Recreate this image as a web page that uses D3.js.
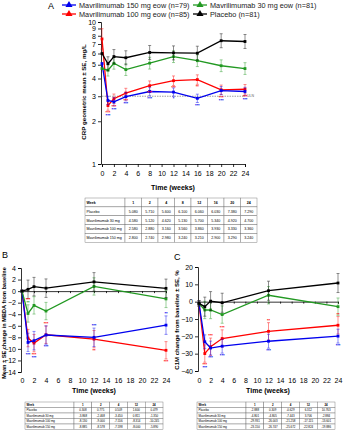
<!DOCTYPE html>
<html>
<head>
<script src="https://d3js.org/d3.v7.min.js"></script>
<style>
  body { margin: 0; background: #fff; }
  svg { font-family: "Liberation Sans", Arial, sans-serif; }
  .axis path, .axis line { stroke: #000; stroke-width: 0.8; }
  .axis text { font-size: 7px; fill: #000; }
</style>
</head>
<body>
<svg id="chart" width="344" height="440"></svg>
<script>
// ---- data ----
const seriesNames = ["Placebo", "Mavrilimumab 30 mg", "Mavrilimumab 100 mg", "Mavrilimumab 150 mg"];
const seriesColors = ["#000000", "#229922", "#ff0000", "#0000ee"];

// panel A: CRP geometric mean (week 0, rest from table)
const weeksA = [0, 1, 2, 4, 8, 12, 16, 20, 24];
const crpPlacebo = [6.0, 5.08, 5.71, 5.60, 6.10, 6.06, 6.03, 7.38, 7.29];
const crp30 = [4.7, 4.58, 5.12, 4.62, 5.13, 5.70, 5.34, 4.92, 4.70];
const crp100 = [7.6, 2.58, 2.88, 3.16, 3.56, 3.86, 3.93, 3.33, 3.36];
const crp150 = [5.1, 2.80, 2.74, 2.98, 3.24, 3.21, 2.90, 3.29, 3.24];
// SE as multiplicative factor on log scale
const crpSE = [1.12, 1.10, 1.08, 1.07];
const crpSE0 = [1.0, 1.0, 1.18, 1.0];
const uln = 3;

// panel B: MBDA change
const weeksB = [0, 1, 2, 4, 12, 24];
const mbdaPlacebo = [0, 0.308, 0.775, 0.509, 1.600, 0.479];
const mbda30 = [0, -3.868, -2.468, -3.450, 0.811, -1.350];
const mbda100 = [0, -8.130, -9.000, -7.556, -8.314, -10.245];
const mbda150 = [0, -8.885, -8.578, -7.598, -8.000, -5.890];
const mbdaSE = [1.6, 1.5, 1.5, 1.6];

// panel C: C1M change
const weeksC = [0, 1, 2, 4, 12, 24];
const c1mPlacebo = [-1, -2.888, 0.309, -0.629, 6.312, 10.763];
const c1m30 = [-1, -4.801, -4.805, -7.443, 3.706, -2.884];
const c1m100 = [-1, -29.931, -26.003, -21.258, -17.115, -13.601];
const c1m150 = [-1, -23.150, -26.747, -25.672, -22.824, -19.886];
const c1mSE = [5.5, 5.0, 5.0, 4.0];

// significance marks: [series index, week, label, side]
const starsA = [[2,1,"***",1],[3,1,"***",1],[2,2,"***",1],[3,2,"***",1],[2,4,"***",1],[3,4,"***",1],
  [2,8,"***",1],[3,8,"***",1],[2,12,"***",1],[3,12,"*",1],[2,16,"**",1],[3,16,"***",1],
  [2,20,"***",1],[3,20,"***",1],[2,24,"***",1],[3,24,"***",1]];
const starsB = [[1,1,"**",-1],[2,1,"***",-1],[3,1,"***",1],[2,2,"***",1],[3,2,"***",1],
  [2,4,"***",-1],[3,4,"***",1],[2,12,"**",1],[3,12,"***",-1],[2,24,"***",1],[3,24,"**",-1]];
const starsC = [[2,1,"***",1],[3,1,"***",1],[2,2,"***",-1],[3,2,"***",1],[2,4,"***",-1],[3,4,"***",1],
  [2,12,"**",-1],[3,12,"***",1],[2,24,"**",-1],[3,24,"***",1]];

const legendLabels = ["Mavrilimumab 150 mg eow (n=79)", "Mavrilimumab 30 mg eow (n=81)",
  "Mavrilimumab 100 mg eow (n=85)", "Placebo (n=81)"];
const legendColors = ["#0000ee", "#229922", "#ff0000", "#000000"];

// table texts
const tableA = [["Week","1","2","4","8","12","16","20","24"],
  ["Placebo","5.080","5.710","5.600","6.100","6.060","6.030","7.380","7.290"],
  ["Mavrilimumab 30 mg","4.580","5.120","4.620","5.130","5.700","5.340","4.920","4.700"],
  ["Mavrilimumab 100 mg","2.580","2.880","3.160","3.560","3.860","3.930","3.330","3.360"],
  ["Mavrilimumab 150 mg","2.800","2.740","2.980","3.240","3.210","2.900","3.290","3.240"]];
const tableB = [["Week","1","2","4","12","24"],
  ["Placebo","0.308","0.775","0.509","1.600","0.479"],
  ["Mavrilimumab 30 mg","-3.868","-2.468","-3.450","0.811","-1.350"],
  ["Mavrilimumab 100 mg","-8.130","-9.000","-7.556","-8.314","-10.245"],
  ["Mavrilimumab 150 mg","-8.885","-8.578","-7.598","-8.000","-5.890"]];
const tableC = [["Week","1","2","4","12","24"],
  ["Placebo","-2.888","0.309","-0.629","6.312","10.763"],
  ["Mavrilimumab 30 mg","-4.801","-4.805","-7.443","3.706","-2.884"],
  ["Mavrilimumab 100 mg","-29.931","-26.003","-21.258","-17.115","-13.601"],
  ["Mavrilimumab 150 mg","-23.150","-26.747","-25.672","-22.824","-19.886"]];

const svg = d3.select("#chart");
const xTicks = d3.range(0, 25, 2);

function drawSeries(g, x, y, weeks, data, errFn) {
  // placebo drawn last so it sits on top
  [2, 3, 1, 0].forEach(i => {
    const vals = data[i];
    const col = seriesColors[i];
    const pts = weeks.map((w, k) => ({ w: w, v: vals[k], k: k }));
    const se = g.append("g").attr("stroke", col).attr("stroke-width", 0.6).attr("opacity", 0.75);
    pts.forEach(p => {
      const [lo, hi] = errFn(i, p);
      if (lo === hi) return;
      se.append("line").attr("x1", x(p.w)).attr("x2", x(p.w)).attr("y1", y(lo)).attr("y2", y(hi));
      [lo, hi].forEach(e => se.append("line")
        .attr("x1", x(p.w) - 1.5).attr("x2", x(p.w) + 1.5).attr("y1", y(e)).attr("y2", y(e)));
    });
    g.append("path")
      .attr("d", d3.line().x(d => x(d.w)).y(d => y(d.v))(pts))
      .attr("fill", "none").attr("stroke", col).attr("stroke-width", 1.3);
    g.selectAll(null).data(pts).join("rect")
      .attr("x", d => x(d.w) - 1.4).attr("y", d => y(d.v) - 1.4)
      .attr("width", 2.8).attr("height", 2.8).attr("fill", col);
  });
}

function drawStars(g, x, y, weeks, data, stars, errFn) {
  const used = {};
  stars.forEach(([i, w, txt, side]) => {
    const k = weeks.indexOf(w);
    const p = { w: w, v: data[i][k], k: k };
    const [lo, hi] = errFn(i, p);
    const key = w + "_" + side;
    let yy = side > 0 ? y(lo) + 4 : y(hi) - 1;
    if (used[key] !== undefined) {
      // stack under/over the previous mark at the same week
      yy = side > 0 ? Math.max(yy, used[key] + 3) : Math.min(yy, used[key] - 3);
    }
    used[key] = yy;
    g.append("text").attr("x", x(w)).attr("y", yy).attr("text-anchor", "middle")
      .attr("font-size", 4).attr("font-weight", "bold").attr("fill", seriesColors[i]).text(txt);
  });
}

function drawTable(rows, x0, y0, firstW, colW, rowH, fs) {
  const t = svg.append("g");
  rows.forEach((row, r) => {
    row.forEach((cell, c) => {
      const cx = c === 0 ? x0 : x0 + firstW + (c - 1) * colW;
      const w = c === 0 ? firstW : colW;
      t.append("rect").attr("x", cx).attr("y", y0 + r * rowH).attr("width", w).attr("height", rowH)
        .attr("fill", "#fff").attr("stroke", "#666").attr("stroke-width", 0.4);
      t.append("text").attr("x", c === 0 ? cx + 1.5 : cx + w / 2).attr("y", y0 + r * rowH + rowH / 2 + fs * 0.35)
        .attr("text-anchor", c === 0 ? "start" : "middle").attr("font-size", fs)
        .attr("font-weight", r === 0 ? "bold" : "normal").text(cell);
    });
  });
}

function panelLetter(txt, x, y) {
  svg.append("text").attr("x", x).attr("y", y).attr("font-size", 9).text(txt);
}

function yLabel(txt, x, y, fs) {
  svg.append("text").attr("transform", `translate(${x},${y}) rotate(-90)`)
    .attr("text-anchor", "middle").attr("font-size", fs).attr("font-weight", "bold").text(txt);
}

function timeLabel(x, y) {
  svg.append("text").attr("x", x).attr("y", y).attr("text-anchor", "middle")
    .attr("font-size", 7).attr("font-weight", "bold").text("Time (weeks)");
}

// ---- legend ----
panelLetter("A", 48, 9);
const legPos = [[62, 5], [193, 5], [62, 14], [193, 14]];
legendLabels.forEach((lab, i) => {
  const [lx, ly] = legPos[i];
  const lg = svg.append("g").attr("transform", `translate(${lx},${ly})`);
  lg.append("line").attr("x1", 0).attr("x2", 14).attr("stroke", legendColors[i]).attr("stroke-width", 1.3);
  lg.append("path").attr("d", d3.symbol(d3.symbolTriangle, 22)()).attr("transform", "translate(7,0)")
    .attr("fill", legendColors[i]);
  lg.append("text").attr("x", 17).attr("y", 2.6).attr("font-size", 7.3).attr("fill", "#222").text(lab);
});

// ---- panel A ----
const xA = d3.scaleLinear().domain([0, 24]).range([102, 245]);
const yA = d3.scaleLog().domain([1, 10]).range([164, 22]);
const gA = svg.append("g");
gA.append("g").attr("class", "axis").attr("transform", "translate(0,164)")
  .call(d3.axisBottom(xA).tickValues(xTicks).tickSize(3).tickPadding(4));
gA.append("g").attr("class", "axis").attr("transform", "translate(101,0)")
  .call(d3.axisLeft(yA).tickValues([1,2,3,4,5,6,7,8,9,10]).tickFormat(d3.format("d")).tickSize(3).tickPadding(2));
gA.append("line").attr("x1", xA(0)).attr("x2", xA(24)).attr("y1", yA(uln)).attr("y2", yA(uln))
  .attr("stroke", "#888").attr("stroke-width", 0.8).attr("stroke-dasharray", "1.5,1");
gA.append("text").attr("x", xA(24) + 2).attr("y", yA(uln) + 1.2).attr("font-size", 3.5).attr("fill", "#666").text("ULN");
const dataA = [crpPlacebo, crp30, crp100, crp150];
const errA = (i, p) => {
  const f = p.k === 0 ? crpSE0[i] : crpSE[i];
  return [p.v / f, p.v * f];
};
drawSeries(gA, xA, yA, weeksA, dataA, errA);
drawStars(gA, xA, yA, weeksA, dataA, starsA, errA);
yLabel("CRP geometric mean ± SE, mg/L", 86, 92, 6.2);
timeLabel(173, 190);
drawTable(tableA, 85, 198, 40, 16.5, 8.9, 3.6);

// ---- panel B ----
panelLetter("B", 2, 258);
const xB = d3.scaleLinear().domain([0, 24]).range([22, 166]);
const yB = d3.scaleLinear().domain([-14, 4]).range([372, 268]);
const gB = svg.append("g");
gB.append("g").attr("class", "axis").attr("transform", `translate(0,${yB(0)})`)
  .call(d3.axisBottom(xB).tickValues(xTicks).tickSize(2).tickFormat(""));
gB.append("g").attr("class", "axis").attr("transform", `translate(0,${yB(-14) + 3})`)
  .call(d3.axisBottom(xB).tickValues(xTicks).tickSize(0).tickPadding(3))
  .call(s => s.select(".domain").remove());
gB.append("g").attr("class", "axis").attr("transform", "translate(21,0)")
  .call(d3.axisLeft(yB).tickValues(d3.range(-14, 5, 2)).tickSize(3).tickPadding(2));
const dataB = [mbdaPlacebo, mbda30, mbda100, mbda150];
const errB = (i, p) => p.k === 0 ? [p.v, p.v] : [p.v - mbdaSE[i], p.v + mbdaSE[i]];
drawSeries(gB, xB, yB, weeksB, dataB, errB);
drawStars(gB, xB, yB, weeksB, dataB, starsB, errB);
yLabel("Mean ± SE change in MBDA from baseline", 6, 323, 5.6);
timeLabel(94, 393);
drawTable(tableB, 25, 402, 49, 17.8, 5.5, 2.9);

// ---- panel C ----
panelLetter("C", 174, 260);
const xC = d3.scaleLinear().domain([0, 24]).range([199, 338]);
const yC = d3.scaleLinear().domain([-40, 20]).range([371, 267]);
const gC = svg.append("g");
gC.append("g").attr("class", "axis").attr("transform", `translate(0,${yC(0)})`)
  .call(d3.axisBottom(xC).tickValues(xTicks).tickSize(2).tickFormat(""));
gC.append("g").attr("class", "axis").attr("transform", `translate(0,${yC(-40) + 4})`)
  .call(d3.axisBottom(xC).tickValues(xTicks).tickSize(0).tickPadding(3))
  .call(s => s.select(".domain").remove());
gC.append("g").attr("class", "axis").attr("transform", "translate(198,0)")
  .call(d3.axisLeft(yC).tickValues(d3.range(-40, 21, 10)).tickSize(3).tickPadding(2));
const dataC = [c1mPlacebo, c1m30, c1m100, c1m150];
const errC = (i, p) => p.k === 0 ? [p.v - 1.5, p.v + 1.5] : [p.v - c1mSE[i], p.v + c1mSE[i]];
drawSeries(gC, xC, yC, weeksC, dataC, errC);
drawStars(gC, xC, yC, weeksC, dataC, starsC, errC);
yLabel("C1M change from baseline ± SE, %", 179, 320, 6.0);
timeLabel(268, 393);
drawTable(tableC, 197, 402, 49, 17.8, 5.5, 2.9);
</script>
</body>
</html>
